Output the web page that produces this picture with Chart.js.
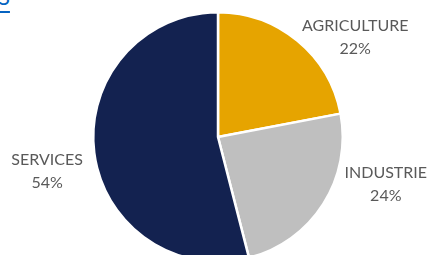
<!DOCTYPE html>
<html>
<head>
<meta charset="utf-8">
<script src="https://cdn.jsdelivr.net/npm/chart.js@4.4.1/dist/chart.umd.min.js"></script>
<style>
  html, body { margin: 0; padding: 0; background: #fff; overflow: hidden; }
  body { width: 428px; height: 255px; position: relative; }
  #wrap { position: absolute; left: 0; top: 0; width: 428px; height: 270px; }
  #lien {
    position: absolute; left: -2px; top: -17px;
    font-family: Lato, sans-serif; font-size: 22px; color: #0563C1;
    text-decoration: underline; text-underline-offset: 6px; text-decoration-thickness: 2px;
  }
</style>
</head>
<body>
<span id="lien">S</span>
<div id="wrap"><canvas id="pie"></canvas></div>
<script>
  // Répartition par secteur (%)
  const secteurs = ['AGRICULTURE', 'INDUSTRIE', 'SERVICES'];
  const parts = [22, 24, 54];
  const couleurs = ['#E6A400', '#BFBFBF', '#132250'];

  // étiquettes à l'extérieur, placées en fonction du rayon (comme dans Excel)
  const ancres = [[1.10, -0.80], [1.345, 0.38], [-1.37, 0.275]];

  const etiquettes = {
    id: 'etiquettes',
    afterDraw(chart) {
      const ctx = chart.ctx;
      const arcs = chart.getDatasetMeta(0).data;
      ctx.save();
      ctx.font = '16px Lato, sans-serif';
      ctx.fillStyle = '#595959';
      ctx.textAlign = 'center';
      ctx.textBaseline = 'middle';
      arcs.forEach((arc, i) => {
        const r = arc.outerRadius;
        const x = arc.x + ancres[i][0] * r;
        const y = arc.y + ancres[i][1] * r;
        ctx.fillText(secteurs[i], x, y - 11.5);
        ctx.fillText(parts[i] + '%', x, y + 11.5);
      });
      ctx.restore();
    }
  };

  new Chart(document.getElementById('pie'), {
    type: 'pie',
    data: {
      labels: secteurs,
      datasets: [{
        data: parts,
        backgroundColor: couleurs,
        borderColor: '#fff',
        borderWidth: 2.5,
        hoverBorderWidth: 2.5
      }]
    },
    options: {
      responsive: true,
      maintainAspectRatio: false,
      animation: false,
      layout: { padding: { top: 11, bottom: 7, left: 8, right: 0 } },
      plugins: { legend: { display: false }, tooltip: { enabled: false } }
    },
    plugins: [etiquettes]
  });
</script>
</body>
</html>
